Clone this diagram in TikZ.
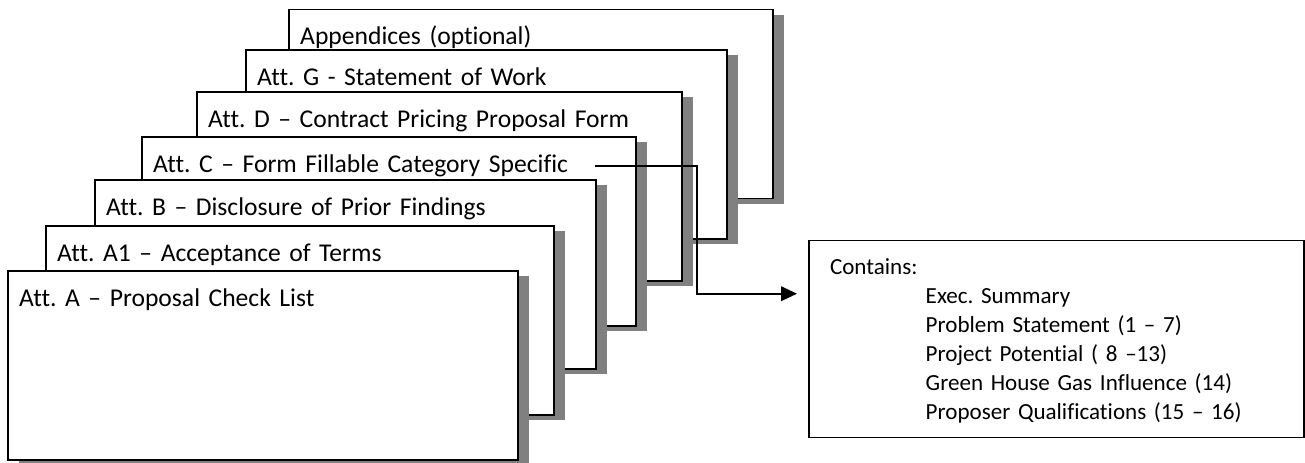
\documentclass[tikz,border=0pt]{standalone}
\usepackage{fontspec}
\setmainfont{Carlito}[Ligatures=CommonOff]
\usetikzlibrary{arrows.meta,shadows,calc}

\tikzset{
  sheet/.style={draw, line width=1.1pt, fill=white, anchor=north west,
    inner xsep=8.4pt, inner ysep=0pt, outer sep=0pt, align=left,
    font=\fontsize{19.2}{23}\selectfont,
    text width=#1-16.8pt, text height=26.5pt, text depth=115.25pt,
    drop shadow={shadow xshift=7.9pt, shadow yshift=-4pt, opacity=1, fill=gray}},
  listbox/.style={draw, line width=1pt, fill=white, anchor=north west,
    inner xsep=15.75pt, inner ysep=0pt, outer sep=0pt, align=left,
    font=\fontsize{17.3}{21.7}\selectfont,
    text width=339.75pt, text height=25.4pt, text depth=122.35pt},
  flow/.style={line width=1.2pt, -{Triangle[length=12pt,width=11pt]}}
}
\newcommand{\tabin}{\hspace*{71.8pt}}
\frenchspacing

\begin{document}
\begin{tikzpicture}[x=0.75pt, y=-0.75pt]
	\useasboundingbox (0,0) rectangle (1305,462);
	\node[sheet=363pt] (app) at (289,9.5) {Appendices (optional)};
	\node[sheet=360.75pt] (attG) at (246,50) {Att. G - Statement of Work};
	\node[sheet=363.75pt] (attD) at (197,92) {Att. D – Contract Pricing Proposal Form};
	\node[sheet=370.5pt] (attC) at (142,137) {Att. C – Form Fillable Category Specific};
	\node[sheet=375.75pt] (attB) at (95,180) {Att. B – Disclosure of Prior Findings};
	\node[sheet=381pt] (attA1) at (46,226) {Att. A1 – Acceptance of Terms};
	\node[sheet=382.5pt] (attA) at (8,271) {Att. A – Proposal Check List};
	\node[listbox] (contents) at (809,240.7) {Contains:\\
		\tabin Exec. Summary\\
		\tabin Problem Statement (1 – 7)\\
		\tabin Project Potential ( 8 –13)\\
		\tabin Green House Gas Influence (14)\\
		\tabin Proposer Qualifications (15 – 16)};
	\coordinate (cstart) at ($(attC.north west)+(453,29)$);
	\coordinate (cend) at ($(contents.north west)+(-12,53)$);
	\draw[flow] (cstart) -- ++(101.7,0) |- (cend);
\end{tikzpicture}
\end{document}
